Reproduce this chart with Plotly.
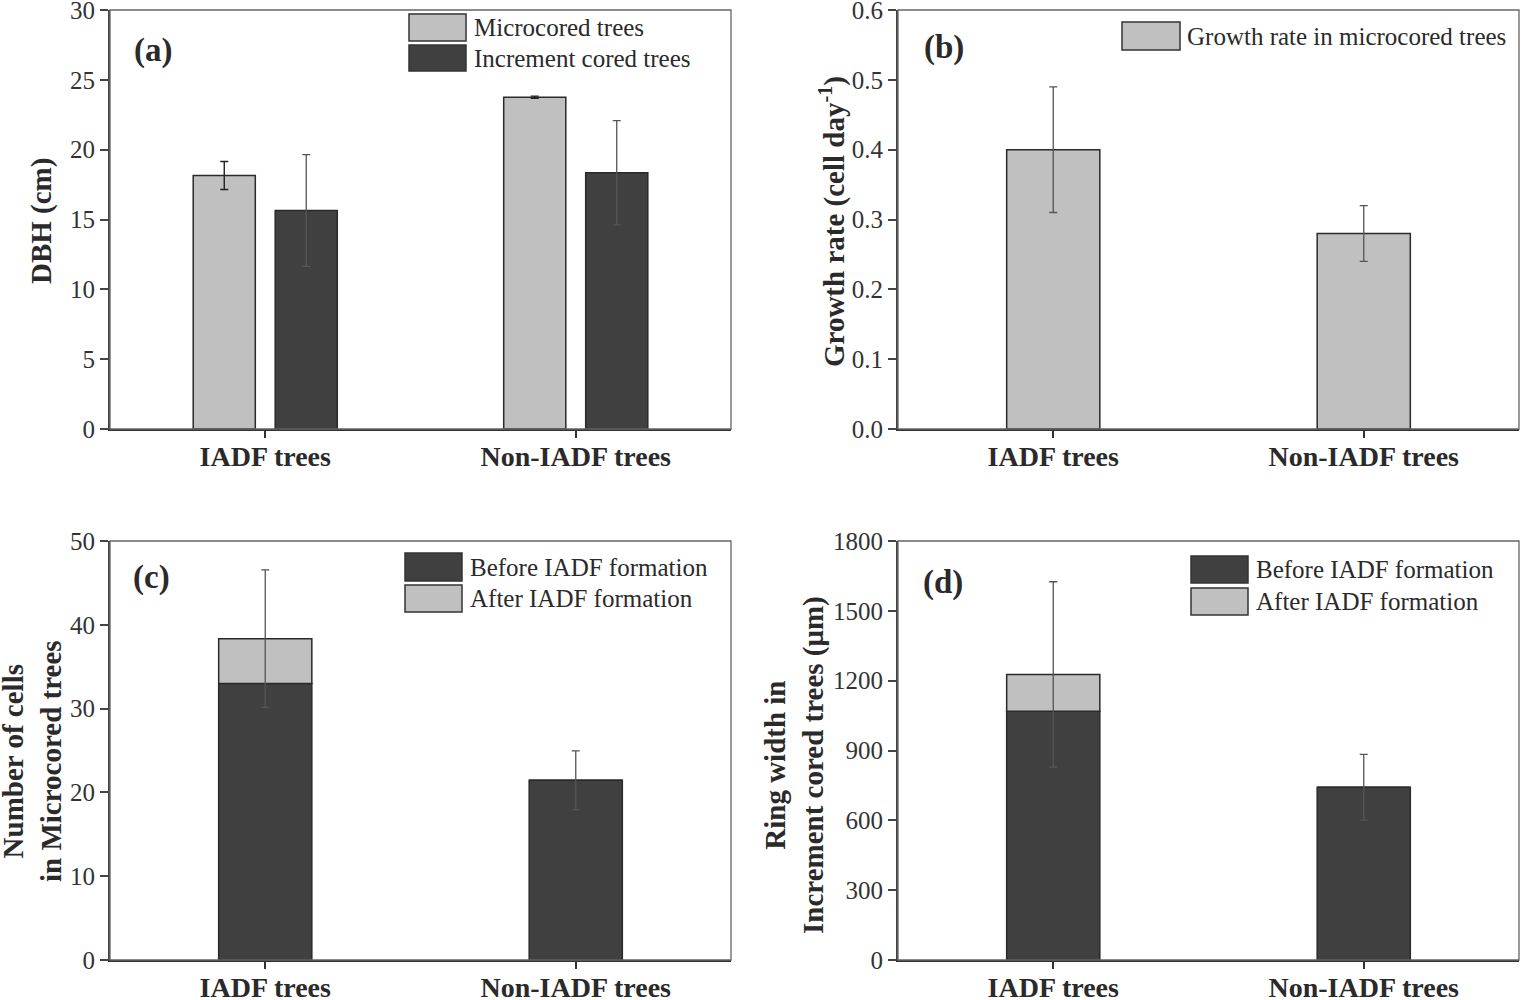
import plotly.graph_objects as go

# ---------------- data ----------------
categories = ["IADF trees", "Non-IADF trees"]

dbh_series = ["Microcored trees", "Increment cored trees"]
dbh_micro = [18.15, 23.75]
dbh_micro_err = [1.0, 0.08]
dbh_incr = [15.65, 18.35]
dbh_incr_err = [4.0, 3.73]

growth_series = ["Growth rate in microcored trees"]
growth = [0.40, 0.28]
growth_err = [0.09, 0.04]

stack_series = ["Before IADF formation", "After IADF formation"]
cells_before = [33.0, 21.45]
cells_after = [5.35, 0.0]
cells_err = [8.2, 3.5]

ring_before = [1069, 742]
ring_after = [158, 0]
ring_err = [398, 141]

# ---------------- style ----------------
W, H = 1524, 1000
LIGHT = "#c0c0c0"
DARK = "#404040"
EDGE = "#2a2a2a"
TXT = "#2a2a2a"
FONT = "Liberation Serif"


def px(x):
    return x / W


def py(y):
    return 1 - y / H


fig = go.Figure()

# panel (a) grouped bars
fig.add_trace(go.Bar(
    x=categories, y=dbh_micro, name=dbh_series[0], xaxis="x", yaxis="y",
    width=0.2, offset=-0.232, marker=dict(color=LIGHT, line=dict(color=EDGE, width=1.5)),
    error_y=dict(type="data", array=dbh_micro_err, color="#222", thickness=1.4, width=4),
    showlegend=False))
fig.add_trace(go.Bar(
    x=categories, y=dbh_incr, name=dbh_series[1], xaxis="x", yaxis="y",
    width=0.2, offset=0.032, marker=dict(color=DARK, line=dict(color=EDGE, width=1.5)),
    error_y=dict(type="data", array=dbh_incr_err, color="#555", thickness=1.3, width=4),
    showlegend=False))

# panel (b)
fig.add_trace(go.Bar(
    x=categories, y=growth, name=growth_series[0], xaxis="x2", yaxis="y2",
    width=0.3, marker=dict(color=LIGHT, line=dict(color=EDGE, width=1.5)),
    error_y=dict(type="data", array=growth_err, color="#555", thickness=1.3, width=4),
    showlegend=False))

# panel (c) stacked
fig.add_trace(go.Bar(
    x=categories, y=cells_before, name=stack_series[0], xaxis="x3", yaxis="y3",
    width=0.3, marker=dict(color=DARK, line=dict(color=EDGE, width=1.5)),
    showlegend=False))
fig.add_trace(go.Bar(
    x=categories, y=cells_after, base=cells_before, name=stack_series[1], xaxis="x3", yaxis="y3",
    width=0.3, marker=dict(color=LIGHT, line=dict(color=EDGE, width=1.5)),
    error_y=dict(type="data", array=cells_err, color="#555", thickness=1.3, width=4),
    showlegend=False))

# panel (d) stacked
fig.add_trace(go.Bar(
    x=categories, y=ring_before, name=stack_series[0], xaxis="x4", yaxis="y4",
    width=0.3, marker=dict(color=DARK, line=dict(color=EDGE, width=1.5)),
    showlegend=False))
fig.add_trace(go.Bar(
    x=categories, y=ring_after, base=ring_before, name=stack_series[1], xaxis="x4", yaxis="y4",
    width=0.3, marker=dict(color=LIGHT, line=dict(color=EDGE, width=1.5)),
    error_y=dict(type="data", array=ring_err, color="#555", thickness=1.3, width=4),
    showlegend=False))

# ---------------- axes ----------------
xdom_l = [px(110), px(731)]
xdom_r = [px(898), px(1519)]
ydom_t = [py(429), py(10)]
ydom_b = [py(960), py(541)]

tickfont = dict(family=FONT, size=25, color="#333")
xtickfont = dict(family=FONT, size=28, color=TXT, weight="bold")


def xax(dom, anchor):
    return dict(domain=dom, anchor=anchor, type="category", range=[-0.5, 1.5],
                showline=True, linecolor="#333", linewidth=2.2, ticks="outside",
                ticklen=7, tickwidth=1.8, tickcolor="#333", tickfont=xtickfont,
                ticklabelstandoff=-6, ticklabeloverflow="allow",
                showgrid=False, zeroline=False, fixedrange=True, automargin=False)


def yax(dom, anchor, rng, dtick, fmt=None):
    d = dict(domain=dom, anchor=anchor, range=rng, dtick=dtick, tick0=0,
             showline=True, linecolor="#444", linewidth=2, ticks="outside",
             ticklen=8, tickwidth=1.6, tickcolor="#444", tickfont=tickfont,
             ticklabeloverflow="allow",
             showgrid=False, zeroline=False, fixedrange=True, automargin=False)
    if fmt:
        d["tickformat"] = fmt
    return d


fig.update_layout(
    width=W, height=H,
    margin=dict(l=0, r=0, t=0, b=0, autoexpand=False),
    paper_bgcolor="white", plot_bgcolor="white",
    barmode="overlay",
    font=dict(family=FONT, color=TXT),
    xaxis=xax(xdom_l, "y"),
    yaxis=yax(ydom_t, "x", [0, 30], 5),
    xaxis2=xax(xdom_r, "y2"),
    yaxis2=yax(ydom_t, "x2", [0, 0.6], 0.1, ".1f"),
    xaxis3=xax(xdom_l, "y3"),
    yaxis3=yax(ydom_b, "x3", [0, 50], 10),
    xaxis4=xax(xdom_r, "y4"),
    yaxis4=yax(ydom_b, "x4", [0, 1800], 300),
)

shapes = []
annotations = []

# frames (thin top/right border)
for xr, yr in [("x", "y"), ("x2", "y2"), ("x3", "y3"), ("x4", "y4")]:
    shapes.append(dict(type="rect", xref=f"{xr} domain", yref=f"{yr} domain",
                       x0=0, x1=1, y0=0, y1=1, line=dict(color="#666", width=1.3),
                       fillcolor="rgba(0,0,0,0)", layer="above"))

# y-axis titles
title_font = dict(family=FONT, size=29, color=TXT, weight="bold")
for text, x, y in [
    ("DBH (cm)", 42, 221),
    ("Growth rate (cell day<sup>-1</sup>)", 833, 221),
    ("Number of cells<br>in Microcored trees", 32, 761),
    ("Ring width in<br>Increment cored trees (μm)", 794, 765),
]:
    annotations.append(dict(text=text, x=px(x), y=py(y), xref="paper", yref="paper",
                            xanchor="center", yanchor="middle", textangle=-90,
                            showarrow=False, font=title_font))

# panel labels
lab_font = dict(family=FONT, size=33, color=TXT, weight="bold")
for text, x, y in [("(a)", 153, 50), ("(b)", 944, 47), ("(c)", 151, 577), ("(d)", 943, 582)]:
    annotations.append(dict(text=text, x=px(x), y=py(y), xref="paper", yref="paper",
                            xanchor="center", yanchor="middle", showarrow=False, font=lab_font))

# legends (boxes + text)
leg_font = dict(family=FONT, size=25, color=TXT)


def legend_item(x0, x1, y0, y1, color, label, tx):
    shapes.append(dict(type="rect", xref="paper", yref="paper",
                       x0=px(x0), x1=px(x1), y0=py(y1), y1=py(y0),
                       fillcolor=color, line=dict(color="#333", width=1.5)))
    annotations.append(dict(text=label, x=px(tx), y=py((y0 + y1) / 2), xref="paper", yref="paper",
                            xanchor="left", yanchor="middle", showarrow=False, font=leg_font))


legend_item(409, 466, 14, 41, LIGHT, dbh_series[0], 472)
legend_item(409, 466, 45, 71, DARK, dbh_series[1], 472)
legend_item(1122, 1180, 22, 50, LIGHT, growth_series[0], 1185)
legend_item(405, 462, 553, 581, DARK, stack_series[0], 468)
legend_item(405, 462, 585, 612, LIGHT, stack_series[1], 468)
legend_item(1191, 1248, 556, 583, DARK, stack_series[0], 1254)
legend_item(1191, 1248, 588, 615, LIGHT, stack_series[1], 1254)

fig.update_layout(shapes=shapes, annotations=annotations)

fig.write_html("out.html",
               config={"displayModeBar": False},
               post_script="document.body.style.margin='0';document.body.style.overflow='hidden';")
